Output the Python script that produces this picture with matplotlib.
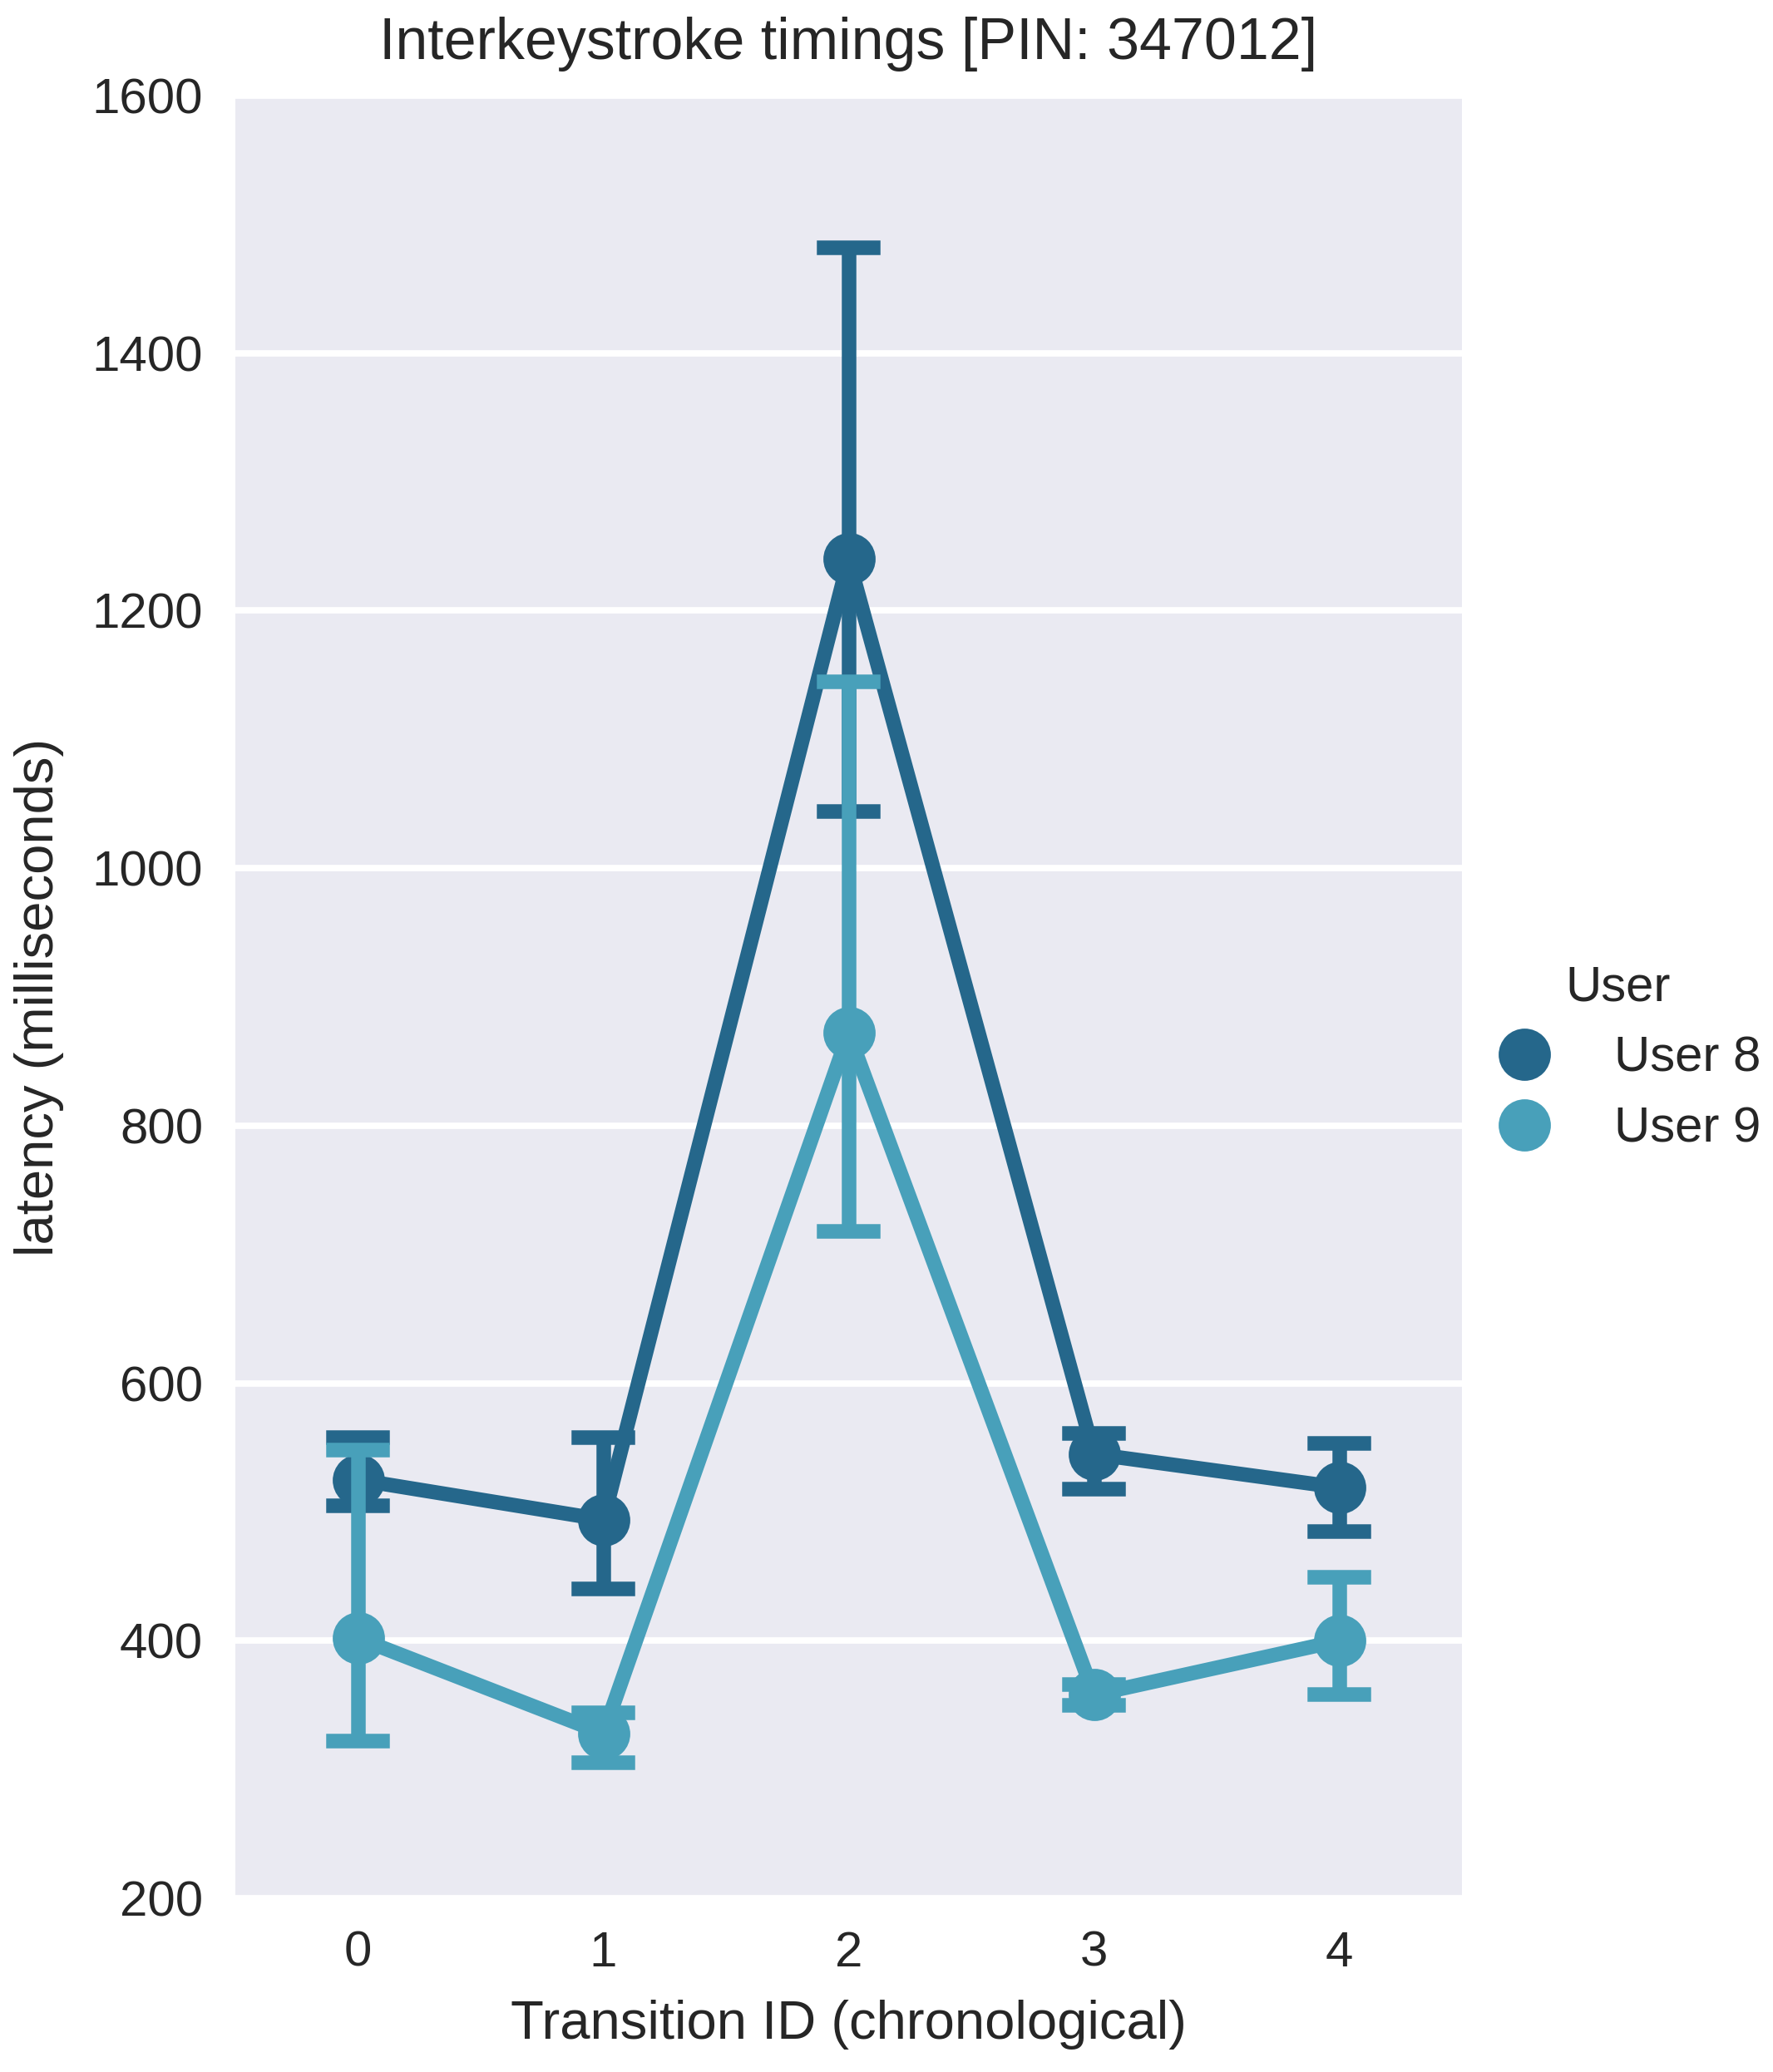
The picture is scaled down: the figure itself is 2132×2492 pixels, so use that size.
import matplotlib
matplotlib.use("Agg")
import matplotlib.pyplot as plt
from matplotlib.lines import Line2D

# values (ms)
transitions = [0, 1, 2, 3, 4]
users = ["User 8", "User 9"]
user8_mean = [525, 494, 1240, 545, 519]
user8_lo = [505, 440, 1044, 518, 485]
user8_hi = [558, 558, 1482, 561, 553]
user9_mean = [402, 328, 872, 358, 400]
user9_lo = [322, 305, 718, 350, 358]
user9_hi = [548, 344, 1145, 366, 449]
colors = ["#25678b", "#48a0ba"]
yticks = [200, 400, 600, 800, 1000, 1200, 1400, 1600]

DPI = 200
plt.rcParams.update({
    "font.family": ["Liberation Sans", "DejaVu Sans"],
    "text.color": ".15", "axes.labelcolor": ".15",
    "xtick.color": ".15", "ytick.color": ".15",
})

fig = plt.figure(figsize=(2132 / DPI, 2492 / DPI), dpi=DPI)
ax = fig.add_axes([283 / 2132, 1 - 2283 / 2492, (1758 - 283) / 2132, (2283 - 115) / 2492])
ax.set_facecolor("#EAEAF2")
for s in ax.spines.values():
    s.set_visible(False)
ax.grid(axis="y", color="white", lw=2.8)
ax.set_axisbelow(True)

lw = 6.3
ms = 21.6
cap = 0.1
series = [(user8_mean, user8_lo, user8_hi), (user9_mean, user9_lo, user9_hi)]
for j, (mean, lo, hi) in enumerate(series):
    c = colors[j]
    ax.plot(transitions, mean, color=c, lw=lw, zorder=2, solid_capstyle="round")
    for x, l, h in zip(transitions, lo, hi):
        ax.plot([x, x], [l, h], color=c, lw=lw, zorder=1 + j, solid_capstyle="butt")
        ax.plot([x - cap, x + cap], [l, l], color=c, lw=lw, zorder=1 + j, solid_capstyle="projecting")
        ax.plot([x - cap, x + cap], [h, h], color=c, lw=lw, zorder=1 + j, solid_capstyle="projecting")
    ax.plot(transitions, mean, ls="none", marker="o", ms=ms, color=c, mec=c, zorder=2 + j)

ax.set_xlim(-0.5, 4.5)
ax.set_ylim(200, 1600)
ax.set_xticks(transitions)
ax.set_yticks(yticks)
ax.tick_params(length=0, labelsize=21.6, pad=14)
ax.set_xlabel("Transition ID (chronological)", fontsize=23.5, labelpad=10)
ax.set_ylabel("latency (milliseconds)", fontsize=23.5, labelpad=12)
ax.set_title("Interkeystroke timings [PIN: 347012]", fontsize=25.2, pad=16)

handles = [Line2D([], [], ls="none", marker="o", ms=ms, color=c) for c in colors]
leg = fig.legend(handles, users, title="User", loc="center left",
                 bbox_to_anchor=(1775 / 2132 - 0.012, 0.489),
                 frameon=False, fontsize=21.6, title_fontsize=21.6,
                 handlelength=2.0, handletextpad=0.8, labelspacing=0.5,
                 borderaxespad=0, borderpad=0.4)

fig.savefig("out.png", dpi=DPI)
